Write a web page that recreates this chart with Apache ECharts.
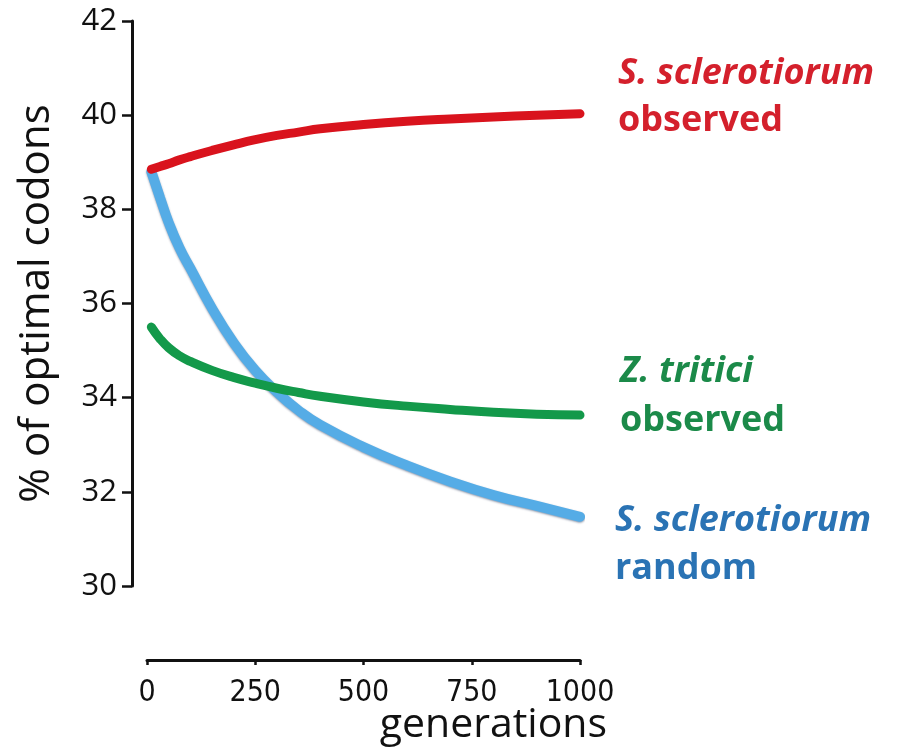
<!DOCTYPE html>
<html>
<head>
<meta charset="utf-8">
<script src="https://cdn.jsdelivr.net/npm/echarts@6/dist/echarts.min.js"></script>
<style>html,body{margin:0;padding:0;background:#fff}#c{width:897px;height:750px}</style>
</head>
<body>
<div id="c"></div>
<script>
// Data
var generations   = [10, 30, 50, 75, 100, 150, 200, 250, 300, 350, 400, 500, 600, 700, 800, 900, 1000];
var redObserved   = [38.85, 38.91, 38.97, 39.05, 39.12, 39.25, 39.37, 39.48, 39.57, 39.64, 39.71, 39.80, 39.87, 39.92, 39.96, 40.00, 40.03];
var greenObserved = [35.50, 35.25, 35.06, 34.89, 34.77, 34.58, 34.43, 34.31, 34.20, 34.11, 34.03, 33.91, 33.82, 33.75, 33.69, 33.65, 33.63];
var blueRandom    = [38.80, 38.25, 37.72, 37.18, 36.75, 35.90, 35.17, 34.58, 34.12, 33.73, 33.42, 32.95, 32.56, 32.22, 31.93, 31.70, 31.47];
var yTicks = [30, 32, 34, 36, 38, 40, 42];
var xTicks = [0, 250, 500, 750, 1000];

function pairs(ys) { return generations.map(function (g, i) { return [g, ys[i]]; }); }

var chart = echarts.init(document.getElementById('c'), null, { renderer: 'canvas' });
var axisFont = "'Open Sans', 'Noto Sans', sans-serif";
var labelFont = "'Open Sans', 'Noto Sans', sans-serif";

chart.setOption({
  animation: false,
  backgroundColor: '#ffffff',
  grid: { left: 147, right: 317, top: 21, bottom: 164 },
  xAxis: {
    type: 'value', min: 0, max: 1000, interval: 250,
    offset: 74,
    axisLine: { show: true, onZero: false, lineStyle: { color: '#111', width: 3 } },
    axisTick: { show: true, inside: false, length: 5, lineStyle: { color: '#111', width: 2.5 } },
    axisLabel: {
      margin: 18, color: '#111', fontSize: 30,
      fontFamily: "'Liberation Sans Narrow', 'DejaVu Sans Condensed', 'Roboto Condensed', sans-serif",
      formatter: function (v) { return xTicks.indexOf(v) >= 0 ? String(v) : ''; }
    },
    splitLine: { show: false }
  },
  yAxis: {
    type: 'value', min: 30, max: 42, interval: 2,
    offset: 15,
    axisLine: { show: true, onZero: false, lineStyle: { color: '#111', width: 3 } },
    axisTick: { show: true, length: 10, lineStyle: { color: '#111', width: 2.5 } },
    axisLabel: {
      margin: 15, color: '#111', fontSize: 31, fontFamily: axisFont,
      formatter: function (v) { return yTicks.indexOf(v) >= 0 ? String(v) : ''; }
    },
    splitLine: { show: false },
    name: '% of optimal codons', nameLocation: 'middle', nameGap: 74, nameRotate: 90,
    nameTextStyle: { color: '#111', fontSize: 42, fontFamily: axisFont }
  },
  series: [
    {
      name: 'S. sclerotiorum random', type: 'line', data: pairs(blueRandom), smooth: 0.5, showSymbol: false,
      lineStyle: { color: '#55ace6', width: 10, cap: 'round', join: 'round', shadowColor: 'rgba(20,40,80,0.45)', shadowBlur: 2, shadowOffsetY: 1 },
      z: 2
    },
    {
      name: 'Z. tritici observed', type: 'line', data: pairs(greenObserved), smooth: 0.5, showSymbol: false,
      lineStyle: { color: '#13994a', width: 9, cap: 'round', join: 'round' },
      z: 3
    },
    {
      name: 'S. sclerotiorum observed', type: 'line', data: pairs(redObserved), smooth: 0.5, showSymbol: false,
      lineStyle: { color: '#d9131d', width: 9, cap: 'round', join: 'round' },
      z: 4
    }
  ],
  graphic: [
    { type: 'text', left: 618, top: 56, style: { text: 'S. sclerotiorum', fill: '#d4202c', font: "italic bold 36px " + labelFont } },
    { type: 'text', left: 618, top: 103, style: { text: 'observed', fill: '#d4202c', font: "bold 36px " + labelFont } },
    { type: 'text', left: 620, top: 354, style: { text: 'Z. tritici', fill: '#1b8a49', font: "italic bold 36px " + labelFont } },
    { type: 'text', left: 620, top: 403, style: { text: 'observed', fill: '#1b8a49', font: "bold 36px " + labelFont } },
    { type: 'text', left: 615, top: 503, style: { text: 'S. sclerotiorum', fill: '#2a73b4', font: "italic bold 36px " + labelFont } },
    { type: 'text', left: 615, top: 551, style: { text: 'random', fill: '#2a73b4', font: "bold 36px " + labelFont } },
    { type: 'text', right: 290, top: 705, style: { text: 'generations', fill: '#111', font: "41px " + axisFont } }
  ]
});
</script>
</body>
</html>
